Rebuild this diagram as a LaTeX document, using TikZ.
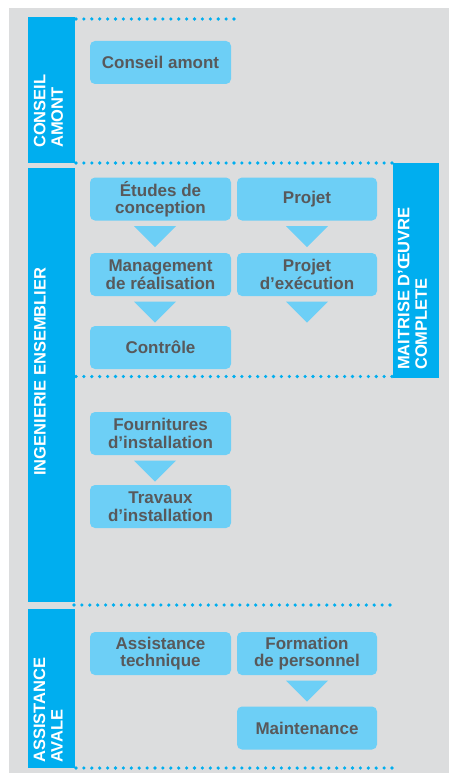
\documentclass[tikz,border=0pt]{standalone}
\usepackage{fontspec}
\setmainfont{Liberation Sans}
\usetikzlibrary{calc}
\definecolor{barblue}{HTML}{00AEEF}
\definecolor{boxblue}{HTML}{6DCFF6}
\definecolor{bggrey}{HTML}{DCDDDE}
\definecolor{txtgrey}{HTML}{58595B}
\begin{document}
\begin{tikzpicture}[x=1pt,y=-1pt,
  box/.style={fill=boxblue, rounded corners=5pt, minimum width=141pt, minimum height=43pt, inner sep=0pt, align=center, text=txtgrey, font=\fontsize{17}{17.5}\selectfont\bfseries},
  rbox/.style={box, minimum width=140pt},
  bar/.style={fill=barblue, inner sep=0pt, minimum width=47pt},
  barlabel/.style={rotate=90, align=left, text=white, inner sep=0pt, font=\fontsize{16.5}{17.5}\selectfont\bfseries},
  dots/.style={draw=barblue, line width=3.6pt, line cap=round, dash pattern=on 0pt off 7.9pt},
  tri/.style={fill=boxblue}]
\useasboundingbox (0,0) rectangle (449,773);
\fill[white] (0,0) rectangle (449,773);
\fill[bggrey] (9,8) rectangle (449,773);

% side bars
\node[bar, minimum height=146pt] (barconseil) at (51.5,90) {};
\node[bar, minimum height=434pt] (baring) at (51.5,385) {};
\node[bar, minimum height=159pt] (barassist) at (51.5,688.5) {};
\node[bar, minimum width=46pt, minimum height=215pt] (barmoe) at (416,270.5) {};

% bar labels
\node[barlabel, anchor=south west] (lconseil) at (63.3,148) {CONSEIL\\AMONT};
\node[barlabel, anchor=base west] (ling) at (45.5,476) {INGENIERIE ENSEMBLIER};
\node[barlabel, anchor=south west] (lassist) at (62.8,763) {ASSISTANCE\\AVALE};
\node[barlabel, anchor=south west] (lmoe) at (427.3,370) {MAITRISE D’ŒUVRE\\COMPLETE};

% dotted separators
\coordinate (d1a) at (76,19);    \coordinate (d1b) at (235,19);
\coordinate (d2a) at (76,163);   \coordinate (d2b) at (392,163);
\coordinate (d3a) at (76,376.5); \coordinate (d3b) at (392,376.5);
\coordinate (d4a) at (74,605);   \coordinate (d4b) at (392,605);
\coordinate (d5a) at (76,768);   \coordinate (d5b) at (392,768);
\path[dots] (d1a) -- (d1b);
\path[dots] (d2a) -- (d2b);
\path[dots] (d3a) -- (d3b);
\path[dots] (d4a) -- (d4b);
\path[dots] (d5a) -- (d5b);

% boxes
\node[box] (conseil) at (160.5,62.5) {Conseil amont};
\node[box] (etudes) at (160.5,199) {Études de\\conception};
\node[rbox] (projet) at (307,199) {Projet};
\node[box] (mgmt) at (160.5,274.5) {Management\\de réalisation};
\node[rbox] (projexec) at (307,274.5) {Projet\\d’exécution};
\node[box] (controle) at (160.5,347.5) {Contrôle};
\node[box] (fourn) at (160.5,433.5) {Fournitures\\d’installation};
\node[box] (travaux) at (160.5,506.5) {Travaux\\d’installation};
\node[box] (assist) at (160.5,653.5) {Assistance\\technique};
\node[rbox] (formation) at (307,653.5) {Formation\\de personnel};
\node[rbox] (maint) at (307,728) {Maintenance};

% triangles
\fill[tri] ($(etudes.south)+(-26.5,5.5)$) -- ++(42,0) -- ++(-21,21) -- cycle;
\fill[tri] ($(mgmt.south)+(-26.5,5.5)$) -- ++(42,0) -- ++(-21,21) -- cycle;
\fill[tri] ($(projet.south)+(-21,5.5)$) -- ++(42,0) -- ++(-21,21) -- cycle;
\fill[tri] ($(projexec.south)+(-21,5.5)$) -- ++(42,0) -- ++(-21,21) -- cycle;
\fill[tri] ($(fourn.south)+(-26.5,5.5)$) -- ++(42,0) -- ++(-21,21) -- cycle;
\fill[tri] ($(formation.south)+(-21,5.5)$) -- ++(42,0) -- ++(-21,21) -- cycle;
\end{tikzpicture}
\end{document}
